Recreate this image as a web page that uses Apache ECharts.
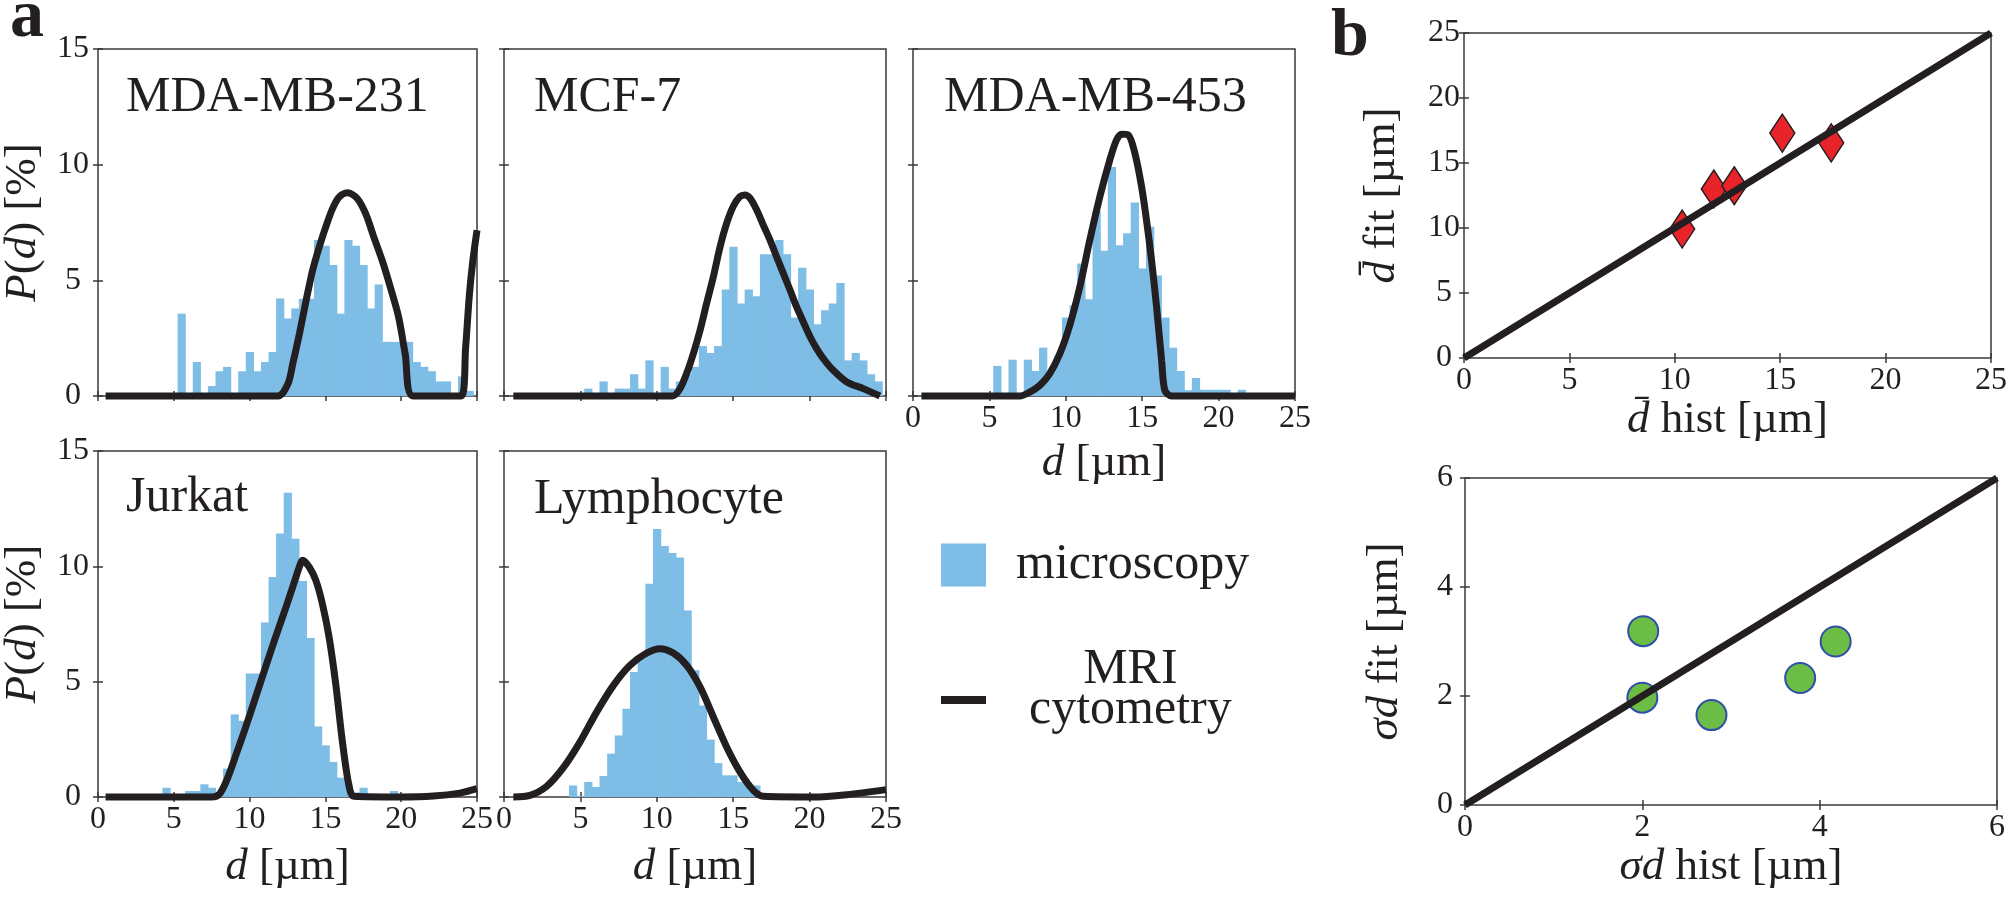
<!DOCTYPE html>
<html><head><meta charset="utf-8">
<script src="https://cdn.jsdelivr.net/npm/echarts@6/dist/echarts.min.js"></script>
<style>html,body{margin:0;padding:0;background:#fff}#c{width:2010px;height:897px}</style>
</head><body><div id="c"></div>
<script>
// ---------------- data ----------------
const BIN = 0.5; // histogram bin width [µm]

// MDA-MB-231
const mda231Bins = [5.5,6.5,7.5,8.0,8.5,9.5,10.0,10.5,11.0,11.5,12.0,12.5,13.0,13.5,14.0,14.5,15.0,15.5,16.0,16.5,17.0,17.5,18.0,18.5,19.0,19.5,20.0,20.5,21.0,21.5,22.0,22.5,23.0,24.0,24.5];
const mda231Pct  = [3.56,1.47,0.43,1.07,1.26,1.07,1.9,1.07,1.47,1.9,4.21,3.35,3.78,4.2,4.2,6.74,6.5,5.66,3.56,6.74,6.5,5.66,3.78,4.82,2.34,2.34,2.34,2.34,1.47,1.26,1.07,0.63,0.63,0.85,0.22];
const mda231FitX = [0.5,11.87,12.53,12.85,13.29,13.73,14.16,14.6,15.03,15.47,15.9,16.45,17.1,17.65,18.19,18.74,19.28,19.83,20.26,20.8,23.96,24.25,24.5,24.73,25];
const mda231FitY = [0,0,0.53,1.4,2.7,4.14,5.44,6.45,7.32,8.1,8.6,8.79,8.54,7.89,6.88,5.87,4.71,3.41,1.83,0,0,2.1,4.4,5.87,7.17];

// MCF-7
const mcf7Bins = [5.5,6.5,7.5,8.0,8.5,9.0,9.5,10.5,11.0,11.5,12.0,12.5,13.0,13.5,14.0,14.5,15.0,15.5,16.0,16.5,17.0,17.5,18.0,18.5,19.0,19.5,20.0,20.5,21.0,21.5,22.0,22.5,23.0,23.5,24.0,24.5];
const mcf7Pct  = [0.32,0.63,0.32,0.32,0.94,0.32,1.54,1.26,0.32,0.63,0.94,1.26,2.16,1.86,2.16,4.6,6.45,4.0,4.6,4.31,6.13,6.13,6.74,6.13,3.39,5.54,4.6,3.1,3.71,4.0,4.89,1.54,1.86,1.54,0.94,0.63];
const mcf7FitX = [0.61,11.04,11.52,11.95,12.39,12.83,13.26,13.7,14.14,14.57,15.0,15.44,15.77,16.1,16.54,16.97,17.41,17.84,18.28,18.72,19.15,19.59,20.03,20.46,20.9,21.55,22.43,23.52,24.6];
const mcf7FitY = [0,0,0.32,0.97,1.83,2.84,4.0,5.15,6.45,7.46,8.19,8.62,8.69,8.55,8.04,7.39,6.74,6.02,5.3,4.58,3.85,3.2,2.56,2.05,1.62,1.11,0.61,0.32,0];

// MDA-MB-453
const mda453Bins = [5.5,6.5,7.5,8.0,8.5,9.0,9.5,10.0,10.5,11.0,11.5,12.0,12.5,13.0,13.5,14.0,14.5,15.0,15.5,16.0,16.5,17.0,17.5,18.0,18.5,19.0,19.5,20.0,20.5,21.5];
const mda453Pct  = [1.3,1.57,1.57,1.08,2.09,1.0,1.7,3.39,3.92,5.73,4.18,8.0,6.28,9.9,6.52,7.03,8.36,5.51,7.32,5.21,3.39,2.09,1.08,0.25,0.78,0.27,0.27,0.27,0.27,0.27];
const mda453FitX = [0.55,6.99,7.64,8.3,8.95,9.61,10.26,10.92,11.57,12.23,12.88,13.32,13.65,14.08,14.52,14.96,15.28,15.61,15.94,16.27,16.48,16.92,25];
const mda453FitY = [0,0,0.17,0.46,0.97,1.83,3.06,4.72,6.74,8.62,10.2,11.07,11.32,11.29,10.5,9.05,7.61,5.88,3.85,1.54,0.25,0,0];

// Jurkat
const jurkatBins = [4.5,6.0,6.5,7.0,7.5,8.0,8.5,9.0,9.5,10.0,10.5,11.0,11.5,12.0,12.5,13.0,13.5,14.0,14.5,15.0,15.5,16.0,16.5,17.0,17.5,19.5];
const jurkatPct  = [0.4,0.26,0.26,0.55,0.4,0.2,1.23,3.58,3.3,5.35,5.35,7.56,9.54,11.42,13.19,11.2,9.36,6.89,3.06,2.24,1.52,0.84,0.58,0.2,0.4,0.26];
const jurkatFitX = [0.5,7.49,8.03,8.58,9.13,9.67,10.33,10.98,11.64,12.29,12.84,13.28,13.49,13.93,14.37,14.8,15.24,15.68,16.11,16.55,16.88,19.93,22.12,23.86,25];
const jurkatFitY = [0,0,0.14,0.87,1.88,2.89,4.19,5.49,6.79,8.02,9.1,9.97,10.26,9.97,9.39,8.38,6.94,4.91,2.46,0.51,0.03,0,0.04,0.17,0.36];

// Lymphocyte
const lymphoBins = [4.5,5.0,5.5,6.0,6.5,7.0,7.5,8.0,8.5,9.0,9.5,10.0,10.5,11.0,11.5,12.0,12.5,13.0,13.5,14.0,14.5,15.0,15.5,16.0,16.5,17.0,19.0];
const lymphoPct  = [0.5,0.05,0.65,0.43,0.91,1.88,2.67,3.83,5.42,6.0,9.25,11.62,10.88,10.58,10.38,8.09,5.5,3.97,2.49,1.47,0.94,0.94,0.65,0.5,0.5,0.17,0.14];
const lymphoFitX = [0.61,1.7,2.79,3.88,4.97,6.06,7.16,8.25,9.34,10.21,11.08,11.95,12.83,13.7,14.57,15.45,16.32,16.97,20.24,22.43,25];
const lymphoFitY = [0,0.07,0.46,1.27,2.38,3.68,4.84,5.71,6.24,6.43,6.24,5.71,4.77,3.47,2.17,1.08,0.29,0.03,0,0.1,0.32];

// panel b
const meanHist = [10.35, 11.85, 12.82, 15.1, 17.42];
const meanFit  = [9.92, 13.0, 13.25, 17.3, 16.55];
const sigmaHist = [2.01, 2.0, 2.78, 3.78, 4.18];
const sigmaFit  = [3.19, 1.97, 1.65, 2.33, 3.0];
const identityMean  = [0, 25];
const identitySigma = [0, 6];

// ---------------- styling / layout ----------------
const FONT = 'Liberation Serif';
const INK = '#231f20';
const BLUE = '#7dbde6';
const FRAME = '#3a3a3a';
const zip = (a, b) => a.map((v, i) => [v, b[i]]);

const nameStyle = (fs) => ({
  fontFamily: FONT, fontSize: fs, color: INK,
  rich: { i: { fontFamily: FONT, fontSize: fs, fontStyle: 'italic', color: INK } }
});
const tickStyle = { show: true, inside: true, length: 5, lineStyle: { color: FRAME, width: 1.5 } };

const panelsA = [
  { title: 'MDA-MB-231', bins: mda231Bins, pct: mda231Pct, fx: mda231FitX, fy: mda231FitY, box: [95, 49, 382, 347], xl: false, yl: true, xn: 0, titlePos: [126, 73] },
  { title: 'MCF-7', bins: mcf7Bins, pct: mcf7Pct, fx: mcf7FitX, fy: mcf7FitY, box: [504, 49, 382, 347], xl: false, yl: false, xn: 0, titlePos: [534, 73] },
  { title: 'MDA-MB-453', bins: mda453Bins, pct: mda453Pct, fx: mda453FitX, fy: mda453FitY, box: [913, 49, 382, 347], xl: true, yl: false, xn: 45, titlePos: [944, 73] },
  { title: 'Jurkat', bins: jurkatBins, pct: jurkatPct, fx: jurkatFitX, fy: jurkatFitY, box: [96, 451, 381, 346], xl: true, yl: true, xn: 48, titlePos: [126, 473] },
  { title: 'Lymphocyte', bins: lymphoBins, pct: lymphoPct, fx: lymphoFitX, fy: lymphoFitY, box: [504, 451, 382, 346], xl: true, yl: false, xn: 48, titlePos: [534, 475] }
];

const grid = [], xAxis = [], yAxis = [], series = [], title = [];

function addAxes(gi, xr, yr, opts) {
  const common = { gridIndex: gi, type: 'value', splitLine: { show: false }, axisLine: { show: false }, axisTick: tickStyle };
  xAxis.push(Object.assign({}, common, {
    position: 'bottom', min: xr[0], max: xr[1], interval: xr[2],
    axisLabel: { show: opts.xl, fontFamily: FONT, fontSize: 32, color: INK, margin: 7 },
    name: opts.xName || '', nameLocation: 'middle', nameGap: opts.xGap || 0, nameTextStyle: nameStyle(45)
  }));
  xAxis.push(Object.assign({}, common, { position: 'top', min: xr[0], max: xr[1], interval: xr[2], axisLabel: { show: false } }));
  yAxis.push(Object.assign({}, common, {
    position: 'left', min: yr[0], max: yr[1], interval: yr[2],
    axisLabel: { show: opts.yl, fontFamily: FONT, fontSize: 32, color: INK, margin: opts.yMargin, align: 'center' },
    name: opts.yName || '', nameLocation: 'middle', nameRotate: 90, nameGap: opts.yGap || 0, nameTextStyle: nameStyle(45)
  }));
  yAxis.push(Object.assign({}, common, { position: 'right', min: yr[0], max: yr[1], interval: yr[2], axisLabel: { show: false } }));
}

function renderBin(params, api) {
  const c = api.value(0), h = api.value(1);
  const tl = api.coord([c - BIN / 2, h]);
  const br = api.coord([c + BIN / 2, 0]);
  return { type: 'rect', shape: { x: tl[0], y: tl[1], width: br[0] - tl[0] + 0.6, height: br[1] - tl[1] }, style: { fill: BLUE } };
}

panelsA.forEach((p, i) => {
  grid.push({ left: p.box[0], top: p.box[1], width: p.box[2], height: p.box[3], show: true, borderColor: FRAME, borderWidth: 1.5 });
  addAxes(i, [0, 25, 5], [0, 15, 5], {
    xl: p.xl, yl: p.yl, yMargin: 25,
    xName: p.xn ? '{i|d} [µm]' : '', xGap: p.xn,
    yName: p.yl ? '{i|P}({i|d}) [%]' : '', yGap: 52
  });
  series.push({
    type: 'custom', name: 'microscopy', xAxisIndex: 2 * i, yAxisIndex: 2 * i,
    data: zip(p.bins, p.pct), renderItem: renderBin, itemStyle: { color: BLUE }, z: 2, silent: true
  });
  series.push({
    type: 'line', name: 'MRI cytometry', xAxisIndex: 2 * i, yAxisIndex: 2 * i,
    data: zip(p.fx, p.fy), smooth: 0.3, symbol: 'none', showSymbol: false, clip: false,
    lineStyle: { color: INK, width: 7 }, itemStyle: { color: INK }, z: 3, silent: true
  });
  title.push({ text: p.title, left: p.titlePos[0], top: p.titlePos[1], padding: 0,
    textStyle: { fontFamily: FONT, fontSize: 50, fontWeight: 'normal', color: INK } });
});

// panel b — mean diameter
grid.push({ left: 1464, top: 33, width: 534, height: 325, show: true, borderColor: FRAME, borderWidth: 1.5 });
addAxes(5, [0, 25, 5], [0, 25, 5], { xl: true, yl: true, yMargin: 20,
  xName: '{i|d\u0304} hist [µm]', xGap: 39, yName: '{i|d\u0304} fit [µm]', yGap: 59 });
series.push({ type: 'scatter', xAxisIndex: 10, yAxisIndex: 10, data: zip(meanHist, meanFit),
  symbol: 'diamond', symbolSize: [25, 38], itemStyle: { color: '#e8232a', borderColor: INK, borderWidth: 1.5, opacity: 1 }, z: 3, silent: true });
series.push({ type: 'line', xAxisIndex: 10, yAxisIndex: 10, data: zip(identityMean, identityMean),
  symbol: 'none', clip: false, lineStyle: { color: INK, width: 7 }, z: 4, silent: true });

// panel b — sigma
grid.push({ left: 1465, top: 478, width: 532, height: 327, show: true, borderColor: FRAME, borderWidth: 1.5 });
addAxes(6, [0, 6, 2], [0, 6, 2], { xl: true, yl: true, yMargin: 20,
  xName: '{i|σd} hist [µm]', xGap: 38, yName: '{i|σd} fit [µm]', yGap: 57 });
series.push({ type: 'scatter', xAxisIndex: 12, yAxisIndex: 12, data: zip(sigmaHist, sigmaFit),
  symbol: 'circle', symbolSize: 30, itemStyle: { color: '#6bbd46', borderColor: '#2f4fa8', borderWidth: 2, opacity: 1 }, z: 3, silent: true });
series.push({ type: 'line', xAxisIndex: 12, yAxisIndex: 12, data: zip(identitySigma, identitySigma),
  symbol: 'none', clip: false, lineStyle: { color: INK, width: 7 }, z: 4, silent: true });

title.push({ text: 'a', left: 10, top: -16, padding: 0, textStyle: { fontFamily: FONT, fontSize: 68, fontWeight: 'bold', color: INK } });
title.push({ text: 'b', left: 1331, top: 3, padding: 0, textStyle: { fontFamily: FONT, fontSize: 68, fontWeight: 'bold', color: INK } });

const legend = [
  { data: [{ name: 'microscopy', icon: 'rect' }], left: 941, top: 540, padding: 0, orient: 'vertical',
    itemWidth: 45, itemHeight: 43, selectedMode: false, itemStyle: { borderWidth: 0 },
    textStyle: { fontFamily: FONT, fontSize: 50, color: INK, padding: [0, 0, 9, 25] } },
  { data: [{ name: 'MRI cytometry', icon: 'rect' }], left: 941, top: 645, padding: 0, orient: 'vertical',
    itemWidth: 45, itemHeight: 8, selectedMode: false, itemStyle: { borderWidth: 0 },
    formatter: () => '{c|MRI}\n{c|cytometry}',
    textStyle: { fontFamily: FONT, fontSize: 50, color: INK, padding: [0, 0, 20, 38],
      rich: { c: { fontFamily: FONT, fontSize: 50, color: INK, lineHeight: 40, align: 'center' } } } }
];

const chart = echarts.init(document.getElementById('c'), null, { renderer: 'canvas' });
chart.setOption({ animation: false, backgroundColor: '#fff', textStyle: { fontFamily: FONT }, title, legend, grid, xAxis, yAxis, series });
</script></body></html>
